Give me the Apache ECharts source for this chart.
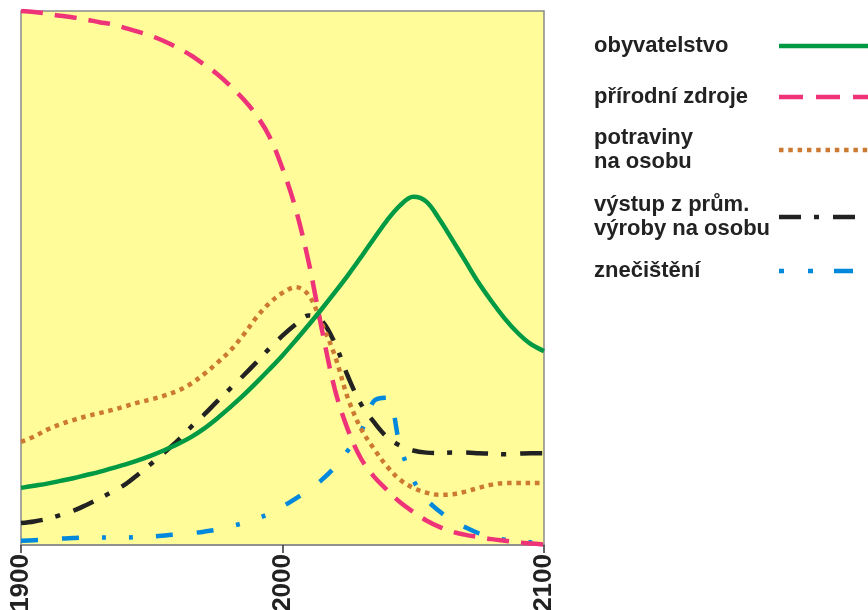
<!DOCTYPE html>
<html>
<head>
<meta charset="utf-8">
<script src="https://cdn.jsdelivr.net/npm/echarts@6/dist/echarts.min.js"></script>
<style>
html,body{margin:0;padding:0;background:#fff;}
#c{width:868px;height:610px;}
</style>
</head>
<body>
<div id="c"></div>
<script>
var years = [1900,1905,1910,1915,1920,1925,1930,1935,1940,1945,1950,1955,1960,1965,1970,1975,1980,1985,1990,1995,2000,2005,2010,2015,2020,2025,2030,2035,2040,2045,2050,2055,2060,2065,2070,2075,2080,2085,2090,2095,2100];
var xTicks = [1900, 2000, 2100];

var seriesNames = ['obyvatelstvo', 'přírodní zdroje', 'potraviny\nna osobu', 'výstup z prům.\nvýroby na osobu', 'znečištění'];

var obyvatelstvo = [10.7,11.1,11.5,12.0,12.5,13.1,13.7,14.4,15.1,15.9,16.8,17.8,18.9,20.2,21.8,23.7,25.8,28.0,30.4,32.9,35.5,38.3,41.2,44.2,47.3,50.5,53.9,57.4,60.8,63.6,65.2,64.3,61.0,57.1,53.1,49.1,45.6,42.4,39.7,37.6,36.3];
var prirodniZdroje = [100,99.8,99.5,99.1,98.8,98.4,97.9,97.5,96.8,96.1,95.3,94.3,93.1,91.7,90.0,88.2,86.0,83.5,80.5,76.5,70.5,63.0,53.0,40.5,29.2,21.6,16.2,12.8,10.3,8.0,6.2,4.6,3.4,2.5,1.9,1.5,1.1,0.8,0.5,0.3,0.1];
var potraviny = [19.3,20.3,21.6,22.6,23.4,24.1,24.7,25.3,26.0,26.7,27.3,28.0,28.9,30.2,32.0,34.1,36.4,39.3,42.6,45.3,47.2,48.3,46.8,41.5,35.5,27.5,21.8,18.0,14.7,12.2,10.7,9.8,9.4,9.5,10.0,10.7,11.3,11.6,11.6,11.6,11.6];
var vystup = [4.1,4.4,4.9,5.6,6.4,7.5,8.7,10.0,11.4,13.3,15.3,17.4,19.6,22.1,24.4,26.9,29.3,31.7,34.2,36.8,39.2,41.3,43.0,42.0,37.8,31.6,26.4,23.0,20.2,18.6,17.7,17.3,17.2,17.3,17.3,17.2,17.1,17.0,17.1,17.2,17.2];
var znecisteni = [0.8,0.9,1.0,1.2,1.3,1.4,1.4,1.4,1.4,1.5,1.6,1.8,2.0,2.2,2.5,2.9,3.5,4.1,4.9,5.9,7.2,8.7,10.3,12.2,14.6,17.7,21.2,27.0,27.6,18.5,12.2,8.6,6.3,4.6,3.3,2.2,1.5,1.0,0.7,0.5,0.4];

var allValues = [obyvatelstvo, prirodniZdroje, potraviny, vystup, znecisteni];
var colors = ['#009944', '#EE3378', '#CC7A33', '#222222', '#0088DD'];
var dashes = ['solid', [22, 12], [4.5, 4.8], [22, 13, 5, 14], [17, 24, 17, 23, 4, 23, 4, 23]];
var legendDashes = ['solid', [24, 13], [4.5, 4.8], [22, 13, 5, 14], [5, 24, 5, 21, 19, 24]];
var legendCenters = [46, 97, 150, 217, 271];
var legendLines = [1, 1, 2, 2, 1];

function pairs(vals) {
  return years.map(function (y, i) { return [y, vals[i]]; });
}

var series = seriesNames.map(function (n, i) {
  return {
    name: n,
    type: 'line',
    data: pairs(allValues[i]),
    smooth: 0.35,
    symbol: 'none',
    z: 10 - i,
    lineStyle: { color: colors[i], width: 4.5, type: dashes[i], cap: 'butt' },
    itemStyle: { color: colors[i] }
  };
});

var LH = 24;
var legends = seriesNames.map(function (n, i) {
  var h = legendLines[i] * LH;
  return {
    data: [n],
    left: 594,
    top: legendCenters[i] - h / 2,
    orient: 'horizontal',
    align: 'right',
    itemWidth: 92,
    itemHeight: 14,
    selectedMode: false,
    padding: 0,
    formatter: function (name) {
      return name.split('\n').map(function (s) { return '{a|' + s + '}'; }).join('\n');
    },
    textStyle: {
      width: 180,
      lineHeight: LH,
      rich: {
        a: {
          align: 'left',
          fontFamily: 'Liberation Sans, Arial, sans-serif',
          fontWeight: 'bold',
          fontSize: 22,
          lineHeight: LH,
          color: '#222'
        }
      }
    },
    itemStyle: { opacity: 0, color: 'rgba(0,0,0,0)', borderWidth: 0 },
    lineStyle: { color: colors[i], width: 4.5, type: legendDashes[i], cap: 'butt' }
  };
});

var chart = echarts.init(document.getElementById('c'), null, { renderer: 'canvas' });
chart.setOption({
  animation: false,
  backgroundColor: '#ffffff',
  legend: legends,
  grid: {
    left: 21, right: 324, top: 11, bottom: 65,
    outerBoundsMode: 'none',
    containLabel: false,
    show: true,
    backgroundColor: '#FFFC99',
    borderColor: '#8a8a8a',
    borderWidth: 1.5
  },
  xAxis: {
    type: 'value',
    min: 1900,
    max: 2100,
    interval: 100,
    axisLine: { show: true, lineStyle: { color: '#8a8a8a', width: 1.5 } },
    axisTick: { show: true, length: 8, lineStyle: { color: '#333', width: 1.5 } },
    splitLine: { show: false },
    axisLabel: {
      rotate: 90,
      margin: 9,
      fontFamily: 'Liberation Sans, Arial, sans-serif',
      fontWeight: 'bold',
      fontSize: 26,
      color: '#222',
      formatter: function (v) { return xTicks.indexOf(v) >= 0 ? String(v) : ''; }
    }
  },
  yAxis: {
    type: 'value',
    min: 0,
    max: 100,
    show: false,
    splitLine: { show: false }
  },
  series: series
});
</script>
</body>
</html>
